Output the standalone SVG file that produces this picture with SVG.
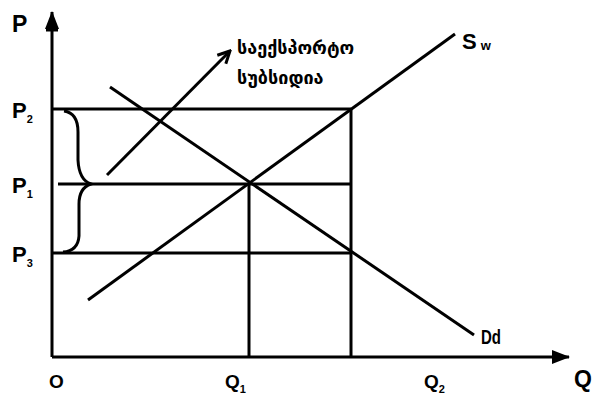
<svg xmlns="http://www.w3.org/2000/svg" width="595" height="402" viewBox="0 0 595 402">
<defs>
<marker id="ahBig" markerWidth="18" markerHeight="14" refX="17" refY="7" orient="auto" markerUnits="userSpaceOnUse" viewBox="0 0 18 14">
<path d="M0,0 L18,7 L0,14 z" fill="#000"/>
</marker>
<marker id="ahOpen" markerWidth="16" markerHeight="16" refX="14" refY="8" orient="auto" markerUnits="userSpaceOnUse" viewBox="0 0 16 16">
<path d="M2,2 L14,8 L2,14" fill="none" stroke="#000" stroke-width="3"/>
</marker>
</defs>
<style>
.ln{stroke:#000;stroke-width:3;fill:none;stroke-linecap:butt}
.lb{font-family:"Liberation Sans",Arial,sans-serif;font-weight:bold;fill:#000}
.geo{font-family:"DejaVu Sans","Noto Sans Georgian",sans-serif;font-size:18px;font-weight:bold;fill:#000}
</style>
<rect width="595" height="402" fill="#fff"/>
<g id="axes">
<line class="ln" x1="52" y1="357" x2="52" y2="12" marker-end="url(#ahBig)"/>
<line class="ln" x1="46" y1="30" x2="58" y2="30"/>
<line class="ln" x1="52" y1="357" x2="569" y2="357" marker-end="url(#ahBig)"/>
</g>
<g id="connectors">
<line class="ln" x1="52" y1="109" x2="351" y2="109"/>
<line class="ln" x1="58" y1="184" x2="351" y2="184"/>
<line class="ln" x1="52" y1="253" x2="351" y2="253"/>
<line class="ln" x1="351" y1="109" x2="351" y2="357"/>
<line class="ln" x1="249" y1="184" x2="249" y2="357"/>
<line class="ln" x1="88" y1="300" x2="455" y2="34"/>
<line class="ln" x1="110" y1="87" x2="474" y2="335"/>
<line class="ln" x1="107" y1="175" x2="230" y2="51" marker-end="url(#ahOpen)"/>
<path class="ln" stroke-width="3.5" d="M64,111 Q78,113 78,132 L78,160 Q79,180 91,184 Q79,188 79,204 L79,236 Q78,251 63,252"/>
</g>
<g id="labels">
<text class="lb" x="12" y="32" font-size="23">P</text>
<text class="lb" x="12" y="118" font-size="22">P<tspan font-size="11" dy="5">2</tspan></text>
<text class="lb" x="12" y="193" font-size="22">P<tspan font-size="11" dy="5">1</tspan></text>
<text class="lb" x="12" y="262" font-size="22">P<tspan font-size="11" dy="5">3</tspan></text>
<text class="lb" x="49" y="388" font-size="19">O</text>
<text class="lb" x="225" y="388" font-size="19">Q<tspan font-size="11" dy="5">1</tspan></text>
<text class="lb" x="424" y="388" font-size="19">Q<tspan font-size="11" dy="5">2</tspan></text>
<text class="lb" x="574" y="387" font-size="23">Q</text>
<text class="lb" x="462" y="49" font-size="22">S<tspan font-size="13" dx="4" dy="1">w</tspan></text>
<text class="lb" x="481" y="344" font-size="20" transform="translate(481 0) scale(0.75 1) translate(-481 0)">Dd</text>
<text class="geo" x="237" y="54">საექსპორტო</text>
<text class="geo" x="237" y="84">სუბსიდია</text>
</g>
</svg>
